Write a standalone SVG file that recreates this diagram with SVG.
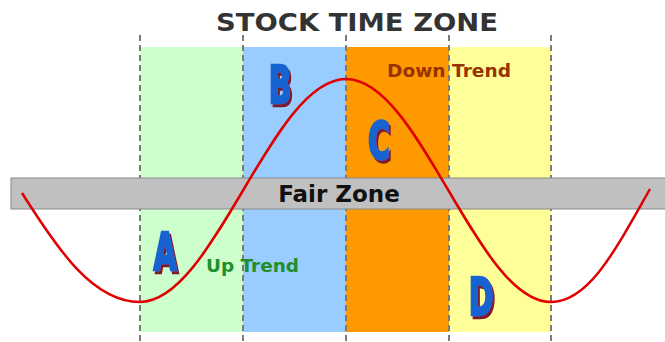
<svg xmlns="http://www.w3.org/2000/svg" width="665" height="342" viewBox="0 0 665 342">
<defs>
<filter id="shadow" x="-20%" y="-20%" width="150%" height="150%">
<feOffset in="SourceAlpha" dx="2" dy="2" result="off"/>
<feFlood flood-color="#7a1f2e"/>
<feComposite in2="off" operator="in" result="sh"/>
<feMerge><feMergeNode in="sh"/><feMergeNode in="SourceGraphic"/></feMerge>
</filter>
</defs>
<style>
.dash{stroke:#7a7a7a;stroke-width:2;stroke-dasharray:6 4;fill:none}
.lbl{font-family:"DejaVu Sans",Verdana,sans-serif;font-weight:bold}
.let{font-family:"DejaVu Sans Condensed","DejaVu Sans",sans-serif;font-weight:bold;font-size:33px;text-anchor:middle;fill:#1763d1;stroke:#1763d1;stroke-width:1.6;filter:url(#shadow)}
</style>
<rect width="665" height="342" fill="#ffffff"/>
<g id="bands">
<rect x="140" y="47" width="103" height="285" fill="#ccffcc"/>
<rect x="243" y="47" width="103" height="285" fill="#99ccff"/>
<rect x="346" y="47" width="103" height="285" fill="#ff9900"/>
<rect x="449" y="47" width="102" height="285" fill="#ffff99"/>
</g>
<g id="dividers">
<line class="dash" x1="140" y1="35" x2="140" y2="342"/>
<line class="dash" x1="243" y1="35" x2="243" y2="342"/>
<line class="dash" x1="346" y1="35" x2="346" y2="342"/>
<line class="dash" x1="449" y1="35" x2="449" y2="342"/>
<line class="dash" x1="551" y1="35" x2="551" y2="342"/>
</g>
<g id="fair-zone">
<rect x="11" y="178" width="660" height="31" fill="#c0c0c0" stroke="#8a8a8a" stroke-width="1"/>
<text class="lbl" x="339" y="202" font-size="23" text-anchor="middle" fill="#111111">Fair Zone</text>
</g>
<g id="title">
<text class="lbl" x="357" y="31" font-size="25" text-anchor="middle" fill="#333333" textLength="282" lengthAdjust="spacingAndGlyphs">STOCK TIME ZONE</text>
</g>
<g id="curve">
<path d="M 22,193 C 58,250 93,302 140,302 C 214,302 272,79 346,79 C 420,79 477,302 551,302 C 589,302 616,249 650,189" fill="none" stroke="#e00000" stroke-width="2.5"/>
</g>
<g id="trend-labels">
<text class="lbl" x="387" y="77" font-size="18" fill="#993300" textLength="124" lengthAdjust="spacingAndGlyphs">Down Trend</text>
<text class="lbl" x="206" y="272" font-size="18" fill="#1f8f2a" textLength="93" lengthAdjust="spacingAndGlyphs">Up Trend</text>
</g>
<g id="letter-A">
<text class="let" transform="translate(165,270) scale(1,1.55)">A</text>
</g>
<g id="letter-B">
<text class="let" transform="translate(280,103) scale(1,1.55)">B</text>
</g>
<g id="letter-C">
<text class="let" transform="translate(379,159) scale(1,1.55)">C</text>
</g>
<g id="letter-D">
<text class="let" transform="translate(481,315) scale(1,1.55)">D</text>
</g>
</svg>
